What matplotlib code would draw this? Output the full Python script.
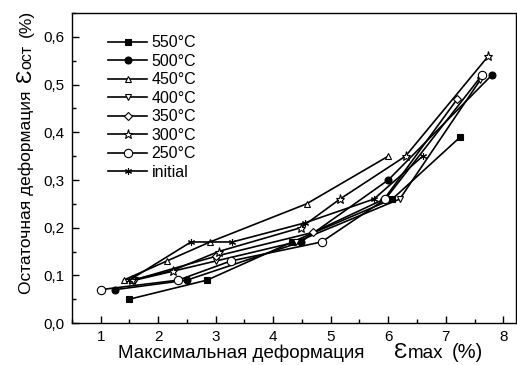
import matplotlib
matplotlib.use("Agg")
import matplotlib.pyplot as plt
from matplotlib.ticker import MultipleLocator, FuncFormatter

plt.rcParams['font.family'] = ['Liberation Sans', 'DejaVu Sans']

# residual strain vs max strain
x_550 = [1.5, 2.85, 4.33, 6.07, 7.25]
y_550 = [0.05, 0.09, 0.17, 0.26, 0.39]
x_500 = [1.25, 2.5, 4.48, 6.0, 7.8]
y_500 = [0.07, 0.09, 0.17, 0.30, 0.52]
x_450 = [1.4, 2.15, 2.9, 4.58, 6.0]
y_450 = [0.09, 0.13, 0.17, 0.25, 0.35]
x_400 = [1.6, 3.0, 4.4, 6.2, 7.6]
y_400 = [0.09, 0.13, 0.17, 0.26, 0.51]
x_350 = [1.57, 3.0, 4.69, 5.93, 7.2]
y_350 = [0.09, 0.14, 0.19, 0.26, 0.47]
x_300 = [1.55, 2.25, 3.05, 4.48, 5.16, 6.3, 7.74]
y_300 = [0.09, 0.11, 0.15, 0.20, 0.26, 0.35, 0.56]
x_250 = [1.0, 2.35, 3.26, 4.84, 5.95, 7.63]
y_250 = [0.07, 0.09, 0.13, 0.17, 0.26, 0.52]
x_init = [1.5, 2.57, 3.29, 4.55, 5.75, 6.6]
y_init = [0.09, 0.17, 0.17, 0.21, 0.26, 0.35]

series = [
    ("550\u00b0C", x_550, y_550, 's', 'black'),
    ("500\u00b0C", x_500, y_500, 'o', 'black'),
    ("450\u00b0C", x_450, y_450, '^', 'white'),
    ("400\u00b0C", x_400, y_400, 'v', 'white'),
    ("350\u00b0C", x_350, y_350, 'D', 'white'),
    ("300\u00b0C", x_300, y_300, '*', 'white'),
    ("250\u00b0C", x_250, y_250, 'o', 'white'),
    ("initial", x_init, y_init, (6, 2, 0), 'black'),
]

fig = plt.figure(figsize=(5.17, 3.65), dpi=100)
ax = fig.add_axes([0.139, 0.115, 0.859, 0.849])

for label, xs, ys, m, fc in series:
    ms = 5
    if m == 'D':
        ms = 4.2
    elif m == '*':
        ms = 6.5
    elif m == 'o' and fc == 'white':
        ms = 6
    ax.plot(xs, ys, color='black', linewidth=1.2, marker=m, markersize=ms,
            markerfacecolor=fc, markeredgecolor='black', markeredgewidth=0.8,
            label=label)

ax.set_xlim(0.5, 8.22)
ax.set_ylim(0, 0.65)
ax.xaxis.set_major_locator(MultipleLocator(1))
ax.xaxis.set_minor_locator(MultipleLocator(0.5))
ax.yaxis.set_major_locator(MultipleLocator(0.1))
ax.yaxis.set_minor_locator(MultipleLocator(0.05))
ax.yaxis.set_major_formatter(FuncFormatter(lambda v, p: f"{v:.1f}".replace('.', ',')))
ax.tick_params(which='both', direction='in', top=False, right=False, labelsize=11)
ax.tick_params(which='major', length=5, width=1)
ax.tick_params(which='minor', length=3, width=1)
ax.tick_params(axis='x', pad=5)
ax.tick_params(axis='y', pad=5)
for s in ax.spines.values():
    s.set_linewidth(1)

leg = ax.legend(loc='upper left', bbox_to_anchor=(0.05, 0.975), frameon=False,
                fontsize=11.5, handlelength=2.4, labelspacing=0.22, handletextpad=0.3)


def chain(pieces, x, y, rotation=0):
    # put text pieces one after another on a common baseline; gap is in pixels
    for txt, size, gap in pieces:
        if rotation == 0:
            x += gap / fig.bbox.width
        else:
            y += gap / fig.bbox.height
        t = fig.text(x, y, txt, fontsize=size, rotation=rotation,
                     rotation_mode='anchor', ha='left', va='baseline')
        fig.canvas.draw()
        bb = t.get_window_extent().transformed(fig.transFigure.inverted())
        if rotation == 0:
            x = bb.x1
        else:
            y = bb.y1


chain([("Максимальная деформация", 13.5, 0), ("\u0190", 16, 30),
       ("max", 13.5, 0), ("(%)", 14.5, 8)],
      0.228, 0.018)
chain([("Остаточная деформация", 12.5, 0), ("\u0190", 16, 8),
       ("ост", 11.5, 0), ("(%)", 12.5, 8)],
      0.06, 0.195, rotation=90)

fig.savefig("out.png", dpi=100, facecolor='white')
